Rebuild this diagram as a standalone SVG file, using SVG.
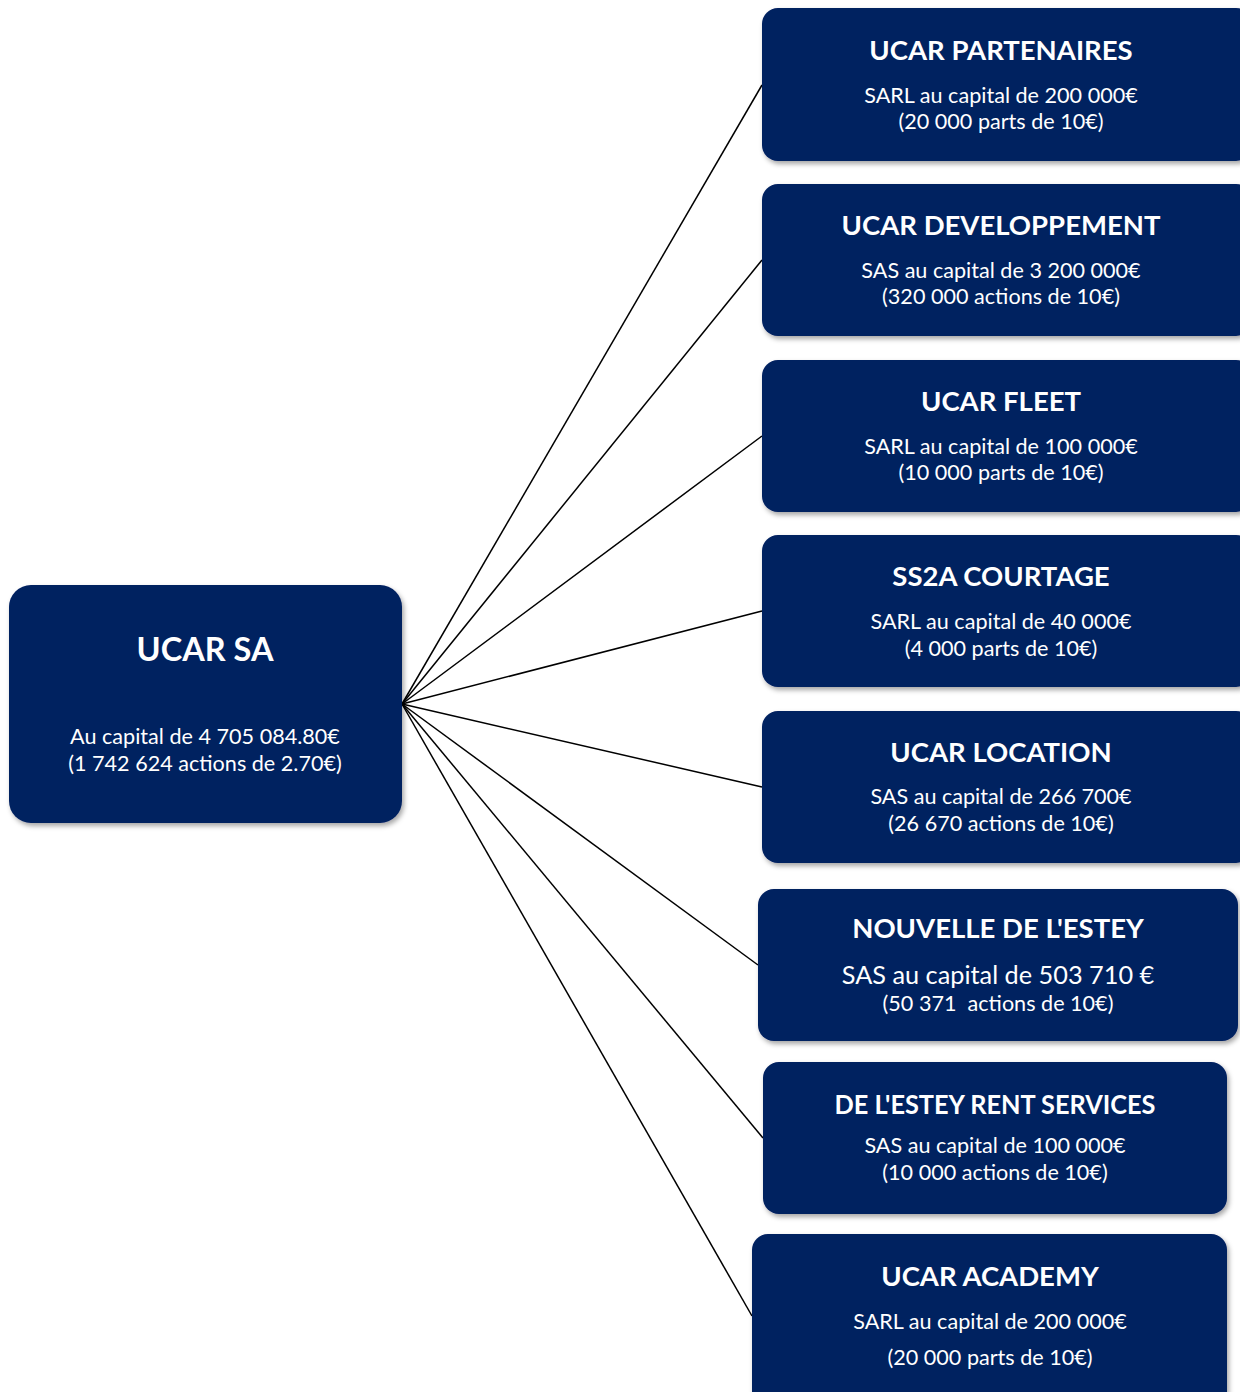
<svg xmlns="http://www.w3.org/2000/svg" width="1240" height="1392" viewBox="0 0 1240 1392">
<style>
.box{fill:#002060;filter:url(#sh)}
.t{font-family:Lato,"Liberation Sans",sans-serif;font-weight:bold;font-size:27.5px;fill:#fff;text-anchor:middle}
.s{font-family:Lato,"Liberation Sans",sans-serif;font-size:21.6px;fill:#fff;text-anchor:middle;white-space:pre}
.c line{stroke:#000;stroke-width:1.5}
</style>
<defs>
<filter id="sh" x="-10%" y="-10%" width="120%" height="130%">
<feDropShadow dx="2" dy="3" stdDeviation="2.5" flood-color="#000" flood-opacity="0.35"/>
</filter>
</defs>
<rect width="1240" height="1392" fill="#fff"/>
<g class="c" id="connectors">
<line x1="402" y1="704" x2="762" y2="85"/>
<line x1="402" y1="704" x2="762" y2="260"/>
<line x1="402" y1="704" x2="762" y2="436"/>
<line x1="402" y1="704" x2="762" y2="611"/>
<line x1="402" y1="704" x2="762" y2="787"/>
<line x1="402" y1="704" x2="758" y2="965"/>
<line x1="402" y1="704" x2="763" y2="1138"/>
<line x1="402" y1="704" x2="752" y2="1316"/>
</g>
<g id="ucar-sa">
<rect class="box" x="9" y="585" width="393" height="238" rx="22"/>
<text class="t" x="205" y="661" style="font-size:32.5px">UCAR SA</text>
<text class="s" x="205" y="744">Au capital de 4 705 084.80€</text>
<text class="s" x="205" y="771">(1 742 624 actions de 2.70€)</text>
</g>
<g id="ucar-partenaires">
<rect class="box" x="762" y="8" width="490" height="153" rx="16"/>
<text class="t" x="1001" y="60">UCAR PARTENAIRES</text>
<text class="s" x="1001" y="103">SARL au capital de 200 000€</text>
<text class="s" x="1001" y="129">(20 000 parts de 10€)</text>
</g>
<g id="ucar-developpement">
<rect class="box" x="762" y="184" width="490" height="152" rx="16"/>
<text class="t" x="1001" y="235">UCAR DEVELOPPEMENT</text>
<text class="s" x="1001" y="278">SAS au capital de 3 200 000€</text>
<text class="s" x="1001" y="304">(320 000 actions de 10€)</text>
</g>
<g id="ucar-fleet">
<rect class="box" x="762" y="360" width="490" height="152" rx="16"/>
<text class="t" x="1001" y="411">UCAR FLEET</text>
<text class="s" x="1001" y="454">SARL au capital de 100 000€</text>
<text class="s" x="1001" y="480">(10 000 parts de 10€)</text>
</g>
<g id="ss2a-courtage">
<rect class="box" x="762" y="535" width="490" height="152" rx="16"/>
<text class="t" x="1001" y="586">SS2A COURTAGE</text>
<text class="s" x="1001" y="629">SARL au capital de 40 000€</text>
<text class="s" x="1001" y="656">(4 000 parts de 10€)</text>
</g>
<g id="ucar-location">
<rect class="box" x="762" y="711" width="490" height="152" rx="16"/>
<text class="t" x="1001" y="762">UCAR LOCATION</text>
<text class="s" x="1001" y="804">SAS au capital de 266 700€</text>
<text class="s" x="1001" y="831">(26 670 actions de 10€)</text>
</g>
<g id="nouvelle-estey">
<rect class="box" x="758" y="889" width="480" height="152" rx="16"/>
<text class="t" x="998" y="938">NOUVELLE DE L'ESTEY</text>
<text class="s" x="998" y="984" style="font-size:25.3px">SAS au capital de 503 710 €</text>
<text class="s" x="998" y="1011">(50 371  actions de 10€)</text>
</g>
<g id="estey-rent">
<rect class="box" x="763" y="1062" width="464" height="152" rx="16"/>
<text class="t" x="995" y="1114" textLength="321" lengthAdjust="spacingAndGlyphs">DE L'ESTEY RENT SERVICES</text>
<text class="s" x="995" y="1153">SAS au capital de 100 000€</text>
<text class="s" x="995" y="1180">(10 000 actions de 10€)</text>
</g>
<g id="ucar-academy">
<rect class="box" x="752" y="1234" width="475" height="190" rx="16"/>
<text class="t" x="990" y="1286">UCAR ACADEMY</text>
<text class="s" x="990" y="1329">SARL au capital de 200 000€</text>
<text class="s" x="990" y="1365">(20 000 parts de 10€)</text>
</g>
</svg>
